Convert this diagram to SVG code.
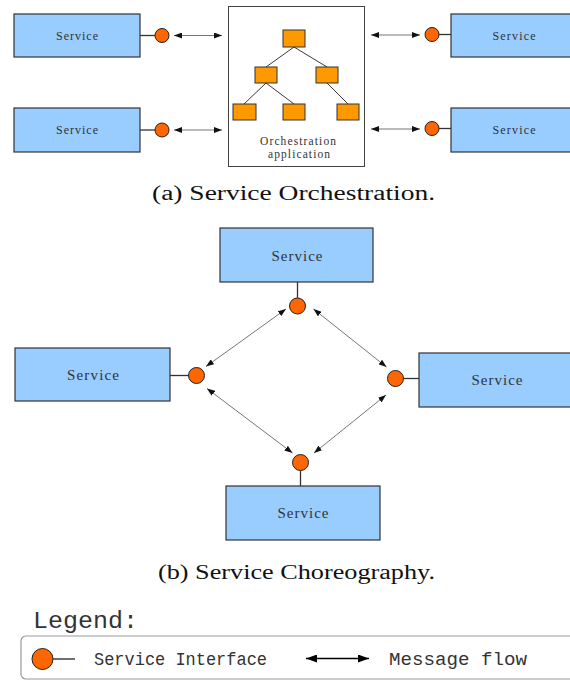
<svg xmlns="http://www.w3.org/2000/svg" width="570" height="681" viewBox="0 0 570 681">
  <style>
    .svc { fill: #99CCFF; stroke: #333; stroke-width: 1.2; }
    .port { fill: #FF6600; stroke: #222; stroke-width: 1; }
    .task { fill: #FF9900; stroke: #333; stroke-width: 1; }
    .stub { stroke: #333; stroke-width: 1.3; fill: none; }
    .tree { stroke: #222; stroke-width: 0.9; fill: none; }
    .flow { stroke: #666; stroke-width: 0.9; fill: none; marker-start: url(#tip); marker-end: url(#tip); }
    .lbl { font-family: "Liberation Serif", "DejaVu Serif", serif; fill: #333; text-anchor: middle; }
    .cap { font-family: "Liberation Serif", "DejaVu Serif", serif; font-size: 20px; fill: #111; }
    .leg { font-family: "Liberation Mono", "DejaVu Sans Mono", monospace; fill: #333; }
  </style>
  <defs>
    <marker id="tip" markerUnits="userSpaceOnUse" markerWidth="8" markerHeight="6" refX="8" refY="3" orient="auto-start-reverse">
      <path d="M0,0 L8,3 L0,6 z" fill="#111"/>
    </marker>
    <marker id="bigtip" markerUnits="userSpaceOnUse" markerWidth="11" markerHeight="8" refX="11" refY="4" orient="auto-start-reverse">
      <path d="M0,0 L11,4 L0,8 z" fill="#000"/>
    </marker>
  </defs>

  <rect width="570" height="681" fill="#fff"/>

  <!-- (a) orchestration -->
  <g id="orchestrator">
    <rect x="228.5" y="6.5" width="136" height="160" fill="#fff" stroke="#444" stroke-width="1"/>
    <path class="tree" d="M294,47 L266,67 M294,47 L327,67 M266,83 L244,104 M266,83 L294,104 M327,83 L348,104"/>
    <rect class="task" x="283" y="30" width="22" height="17"/>
    <rect class="task" x="255" y="67" width="22" height="16"/>
    <rect class="task" x="316" y="67" width="22" height="16"/>
    <rect class="task" x="233" y="104" width="23" height="16"/>
    <rect class="task" x="283" y="104" width="22" height="16"/>
    <rect class="task" x="337" y="104" width="22" height="16"/>
    <text class="lbl" x="298" y="145" font-size="11.5" textLength="76" lengthAdjust="spacing">Orchestration</text>
    <text class="lbl" x="299" y="158" font-size="11.5" textLength="62" lengthAdjust="spacing">application</text>
  </g>

  <g id="svc-a1">
    <rect class="svc" x="14" y="14" width="126" height="43"/>
    <text class="lbl" x="77" y="40" font-size="12" textLength="42" lengthAdjust="spacing">Service</text>
    <line class="stub" x1="140" y1="35.5" x2="155" y2="35.5"/>
    <circle class="port" cx="162" cy="35.5" r="7"/>
  </g>
  <g id="svc-a2">
    <rect class="svc" x="14" y="108" width="126" height="44"/>
    <text class="lbl" x="77" y="134" font-size="12" textLength="42" lengthAdjust="spacing">Service</text>
    <line class="stub" x1="140" y1="130" x2="155" y2="130"/>
    <circle class="port" cx="162" cy="130" r="7"/>
  </g>
  <g id="svc-a3">
    <rect class="svc" x="451" y="14" width="125" height="43"/>
    <text class="lbl" x="514" y="40" font-size="12" textLength="43" lengthAdjust="spacing">Service</text>
    <line class="stub" x1="438" y1="34.5" x2="451" y2="34.5"/>
    <circle class="port" cx="432" cy="34.5" r="7"/>
  </g>
  <g id="svc-a4">
    <rect class="svc" x="451" y="108" width="125" height="44"/>
    <text class="lbl" x="514" y="134" font-size="12" textLength="43" lengthAdjust="spacing">Service</text>
    <line class="stub" x1="438" y1="128.5" x2="451" y2="128.5"/>
    <circle class="port" cx="432" cy="128.5" r="7"/>
  </g>

  <text class="cap" x="152" y="200" textLength="283" lengthAdjust="spacingAndGlyphs">(a) Service Orchestration.</text>

  <!-- (b) choreography -->
  <g id="svc-b-top">
    <rect class="svc" x="220" y="228" width="153" height="54"/>
    <text class="lbl" x="297" y="261" font-size="15" textLength="51" lengthAdjust="spacing">Service</text>
    <line class="stub" x1="297.5" y1="282" x2="297.5" y2="298"/>
    <circle class="port" cx="297.5" cy="306" r="8"/>
  </g>
  <g id="svc-b-left">
    <rect class="svc" x="15" y="348" width="155" height="53"/>
    <text class="lbl" x="93" y="380" font-size="15" textLength="52" lengthAdjust="spacing">Service</text>
    <line class="stub" x1="170" y1="375.5" x2="189" y2="375.5"/>
    <circle class="port" cx="196.5" cy="375.5" r="8"/>
  </g>
  <g id="svc-b-right">
    <rect class="svc" x="419" y="353" width="157" height="54"/>
    <text class="lbl" x="497" y="385" font-size="15" textLength="51" lengthAdjust="spacing">Service</text>
    <line class="stub" x1="403" y1="378.5" x2="419" y2="378.5"/>
    <circle class="port" cx="395.5" cy="378.5" r="8"/>
  </g>
  <g id="svc-b-bottom">
    <rect class="svc" x="226" y="486" width="154" height="54"/>
    <text class="lbl" x="303" y="518" font-size="15" textLength="51" lengthAdjust="spacing">Service</text>
    <line class="stub" x1="300.5" y1="471" x2="300.5" y2="486"/>
    <circle class="port" cx="300.5" cy="462.5" r="8"/>
  </g>

  <g id="connectors">
    <line class="flow" x1="174" y1="35.5" x2="222" y2="35.5"/>
    <line class="flow" x1="174" y1="130" x2="222" y2="130"/>
    <line class="flow" x1="371" y1="35" x2="420" y2="35"/>
    <line class="flow" x1="371" y1="129" x2="420" y2="129"/>
    <line class="flow" x1="286" y1="309" x2="206" y2="366.5"/>
    <line class="flow" x1="313.5" y1="309" x2="386.5" y2="367"/>
    <line class="flow" x1="207" y1="388.5" x2="292.5" y2="453"/>
    <line class="flow" x1="386" y1="395" x2="314" y2="453"/>
  </g>

  <text class="cap" x="158" y="579" textLength="277" lengthAdjust="spacingAndGlyphs">(b) Service Choreography.</text>

  <!-- legend -->
  <g id="legend">
    <text class="leg" x="33" y="628" font-size="24" textLength="105" lengthAdjust="spacingAndGlyphs">Legend:</text>
    <rect x="21" y="636" width="560" height="43" rx="5" fill="none" stroke="#999" stroke-width="1.2"/>
    <line x1="53" y1="659" x2="75" y2="659" stroke="#222" stroke-width="1.3"/>
    <circle class="port" cx="42.5" cy="659" r="10.5"/>
    <text class="leg" x="94" y="665" font-size="18" textLength="173" lengthAdjust="spacingAndGlyphs">Service Interface</text>
    <line x1="306" y1="658.5" x2="369" y2="658.5" stroke="#000" stroke-width="1.3" marker-start="url(#bigtip)" marker-end="url(#bigtip)"/>
    <text class="leg" x="389" y="665" font-size="18" textLength="138" lengthAdjust="spacingAndGlyphs">Message flow</text>
  </g>
</svg>
